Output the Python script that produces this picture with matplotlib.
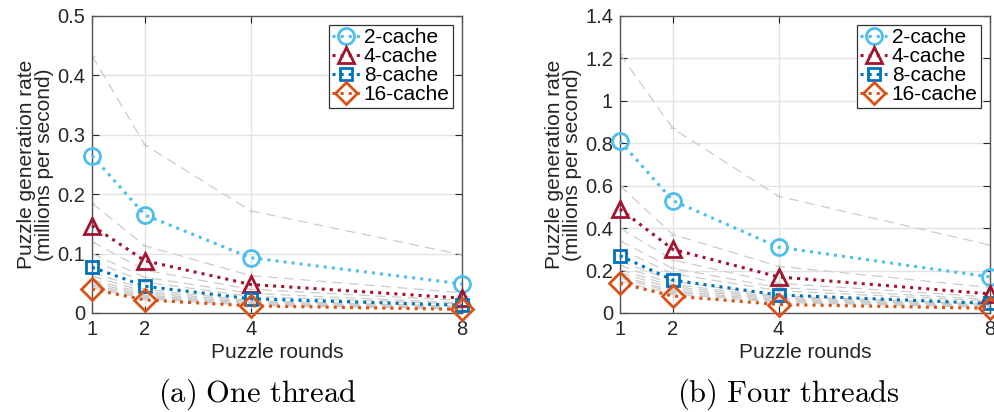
import matplotlib
matplotlib.use('Agg')
import matplotlib.pyplot as plt
from matplotlib.ticker import FormatStrFormatter

plt.rcParams['font.family'] = ['Liberation Sans', 'DejaVu Sans']
plt.rcParams['mathtext.fontset'] = 'cm'

rounds = [1, 2, 4, 8]

# highlighted cache sizes
labels = ['2-cache', '4-cache', '8-cache', '16-cache']
colors = ['#4DBEEE', '#A2142F', '#0072BD', '#D95319']
markers = ['o', '^', 's', 'D']

one_2 = [0.265, 0.165, 0.093, 0.049]
one_4 = [0.147, 0.088, 0.048, 0.025]
one_8 = [0.077, 0.045, 0.024, 0.013]
one_16 = [0.040, 0.022, 0.012, 0.006]

four_2 = [0.81, 0.53, 0.31, 0.17]
four_4 = [0.49, 0.30, 0.17, 0.09]
four_8 = [0.27, 0.155, 0.085, 0.045]
four_16 = [0.14, 0.08, 0.04, 0.022]

# remaining cache sizes (1, 3, 5, 6, 7, 9..15), drawn as background
one_other = [
    [0.433, 0.283, 0.172, 0.098],
    [0.185, 0.113, 0.063, 0.034],
    [0.120, 0.072, 0.040, 0.021],
    [0.100, 0.060, 0.033, 0.017],
    [0.088, 0.052, 0.028, 0.015],
    [0.068, 0.040, 0.021, 0.011],
    [0.062, 0.036, 0.019, 0.010],
    [0.056, 0.033, 0.017, 0.009],
    [0.052, 0.030, 0.016, 0.0085],
    [0.048, 0.028, 0.015, 0.008],
    [0.045, 0.026, 0.014, 0.0075],
    [0.042, 0.024, 0.013, 0.007],
]
four_other = [
    [1.22, 0.87, 0.55, 0.32],
    [0.60, 0.37, 0.22, 0.12],
    [0.40, 0.25, 0.14, 0.075],
    [0.34, 0.21, 0.12, 0.064],
    [0.30, 0.185, 0.105, 0.056],
    [0.245, 0.15, 0.08, 0.043],
    [0.225, 0.135, 0.074, 0.039],
    [0.205, 0.125, 0.068, 0.036],
    [0.19, 0.115, 0.063, 0.033],
    [0.175, 0.105, 0.058, 0.031],
    [0.165, 0.098, 0.054, 0.029],
    [0.15, 0.09, 0.05, 0.027],
]

panels = [
    ([0.0925, 0.2403, 0.3719, 0.7209], [one_2, one_4, one_8, one_16], one_other,
     0.5, [0, 0.1, 0.2, 0.3, 0.4, 0.5], r'$\mathrm{(a)\ One\ thread}$', 0.259),
    ([0.6231, 0.2403, 0.3719, 0.7209], [four_2, four_4, four_8, four_16], four_other,
     1.4, [0, 0.2, 0.4, 0.6, 0.8, 1, 1.2, 1.4], r'$\mathrm{(b)\ Four\ threads}$', 0.792),
]

fig = plt.figure(figsize=(9.95, 4.12), dpi=100)
axcol = '#262626'

for rect, main, other, ymax, yticks, caption, cx in panels:
    ax = fig.add_axes(rect)
    for vals in other:
        ax.plot(rounds, vals, color='#cccccc', linestyle=(0, (8, 5)), linewidth=0.9,
                marker='+', markersize=5, markeredgewidth=0.7, zorder=2)
    for vals, lab, c, m in zip(main, labels, colors, markers):
        ax.plot(rounds, vals, color=c, linestyle=':', linewidth=2.2, marker=m,
                markersize=11.5 if m != 's' else 9, markerfacecolor='none',
                markeredgewidth=2.0, label=lab, zorder=3, clip_on=False)
    ax.set_xlim(1, 8)
    ax.set_ylim(0, ymax)
    ax.set_xticks(rounds)
    ax.set_yticks(yticks)
    ax.yaxis.set_major_formatter(FormatStrFormatter('%g'))
    ax.grid(True, color='#e3e3e3', linewidth=1.0)
    ax.set_axisbelow(True)
    ax.tick_params(direction='in', top=True, right=True, length=5, width=0.8,
                   labelsize=14.5, colors=axcol, pad=5)
    for sp in ax.spines.values():
        sp.set_color('#555555')
        sp.set_linewidth(1.0)
    ax.set_xlabel('Puzzle rounds', fontsize=15, color=axcol, labelpad=3)
    ax.set_ylabel('Puzzle generation rate\n(millions per second)', fontsize=15,
                  color=axcol, linespacing=0.95, labelpad=2)
    leg = ax.legend(loc='upper right', fontsize=15, handlelength=1.3,
                    handletextpad=0.2, borderpad=0.15, labelspacing=0.0,
                    borderaxespad=0.45, fancybox=False, framealpha=1)
    leg.get_frame().set_edgecolor('#333333')
    leg.get_frame().set_linewidth(0.9)
    fig.text(cx, 0.042, caption, ha='center', va='center', fontsize=22)

fig.savefig('out.png', dpi=100)
